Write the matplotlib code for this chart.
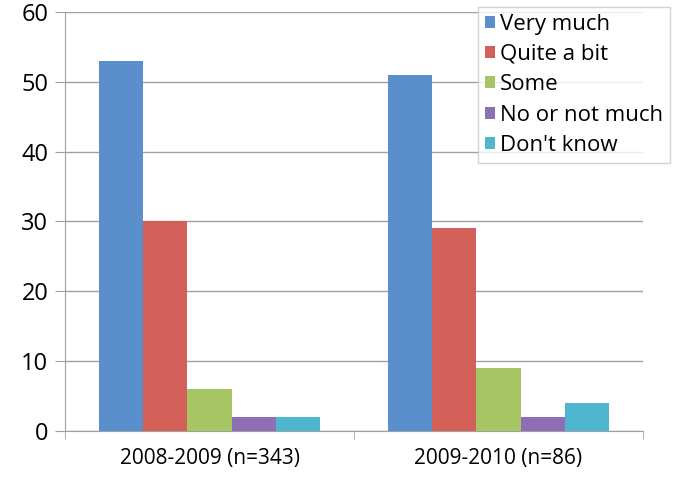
import numpy as np
import matplotlib.pyplot as plt

plt.rcParams['font.family'] = ['Open Sans', 'DejaVu Sans']

groups = ['2008-2009 (n=343)', '2009-2010 (n=86)']
answers = ['Very much', 'Quite a bit', 'Some', 'No or not much', "Don't know"]
percent_0809 = [53, 30, 6, 2, 2]
percent_0910 = [51, 29, 9, 2, 4]
colors = ['#5A8FCC', '#D25F58', '#A6C664', '#8E6FB5', '#4FB6D0']

values = np.array([percent_0809, percent_0910])

fig = plt.figure(figsize=(6.8, 4.83), dpi=100)
ax = fig.add_axes([65 / 680, 52 / 483, 578 / 680, 419 / 483])

x = np.arange(len(groups))
n = len(answers)
bar_w = 0.765 / n
for i, (name, col) in enumerate(zip(answers, colors)):
    offs = (i - (n - 1) / 2) * bar_w
    ax.bar(x + offs, values[:, i], width=bar_w, color=col, label=name, zorder=3)

ax.set_xlim(-0.5, len(groups) - 0.5)
ax.set_ylim(0, 60)
ax.set_yticks(range(0, 61, 10))
ax.set_xticks(x)
ax.set_xticklabels(groups, fontsize=15)
ax.set_xticks([-0.5, 0.5, 1.5], minor=True)
ax.tick_params(axis='x', which='major', length=0, pad=12)
ax.tick_params(axis='x', which='minor', length=6, color='#a0a0a0', direction='out')
ax.tick_params(axis='y', labelsize=17, length=7, color='#a0a0a0', direction='out', pad=5)

ax.grid(axis='y', color='#a0a0a0', linewidth=1, zorder=0)
for s in ['top', 'right']:
    ax.spines[s].set_visible(False)
for s in ['left', 'bottom']:
    ax.spines[s].set_color('#a0a0a0')

leg = ax.legend(loc='upper left', bbox_to_anchor=(478 / 680, 1 - 7 / 483),
                bbox_transform=fig.transFigure, fontsize=16, frameon=True,
                fancybox=False, handlelength=0.45, handleheight=0.45,
                handletextpad=0.25, labelspacing=0.42, borderpad=0.3,
                borderaxespad=0)
leg.get_frame().set_edgecolor('#c8c8c8')
leg.get_frame().set_linewidth(1)

fig.savefig('out.png', dpi=100)
